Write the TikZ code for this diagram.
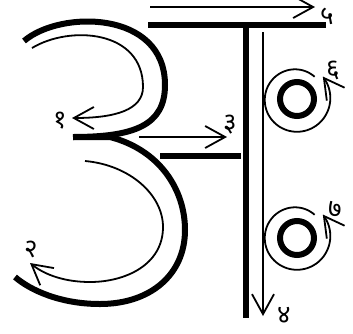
\documentclass[tikz,border=0pt]{standalone}
\usepackage{fontspec}
\newfontfamily\devafont[Script=Devanagari]{Noto Sans}
\usetikzlibrary{arrows.meta}

\begin{document}
\begin{tikzpicture}[x=1pt,y=-1pt,
    >={Straight Barb[length=20pt,width=22pt,line width=1.8pt]},
    thickline/.style={line width=6pt},
    thinline/.style={line width=1.8pt},
    num/.style={font=\devafont\fontsize{26}{26}\selectfont, inner sep=0pt}]
    \useasboundingbox (0,0) rectangle (353,333);

    %letter (solid)
    \draw[thickline] (24,41) .. controls (60,10) and (165,10) .. (165,85)
        .. controls (165,125) and (135,137) .. (73,137);
    \draw[thickline] (73,137) -- (110,137) .. controls (160,150) and (185,190) .. (185,230)
        .. controls (185,275) and (150,304) .. (100,304) .. controls (60,304) and (30,290) .. (15,277);
    \draw[thickline] (160,156) -- (241,156);
    \draw[thickline] (148,25) -- (326,25);
    \draw[thickline] (246,25) -- (246,318);
    \draw[thickline] (297,99) circle (17);
    \draw[thickline] (297,238) circle (17);

    %strokes
    \draw[thinline,->] (32,48) .. controls (70,25) and (143,30) .. (143,87)
        .. controls (143,110) and (115,118) .. (72,118);
    \draw[thinline,->] (85,161) .. controls (130,165) and (163,195) .. (163,227)
        .. controls (163,265) and (125,282) .. (90,282) .. controls (65,282) and (45,275) .. (30,263);
    \draw[thinline,->] (139,137) -- (227,137);
    \draw[thinline,->] (150,7) -- (315,7);
    \draw[thinline,->] (263,32) -- (263,316);
    \draw[thinline,->] plot[domain=50:400,samples=80] ({296+(29+6*(\x-50)/350)*cos(\x)}, {99-(29+6*(\x-50)/350)*sin(\x)});
    \draw[thinline,->] plot[domain=50:400,samples=80] ({296+(29+6*(\x-50)/350)*cos(\x)}, {237-(29+6*(\x-50)/350)*sin(\x)});

    %labels
    \node[num] (n1) at (60,121) {१};
    \node[num] (n2) at (31,249) {२};
    \node[num] (n3) at (230,125) {३};
    \node[num] (n4) at (284,315) {४};
    \node[num] (n5) at (327,16) {५};
    \node[num] (n6) at (333,70) {६};
    \node[num] (n7) at (335,209) {७};
\end{tikzpicture}
\end{document}
